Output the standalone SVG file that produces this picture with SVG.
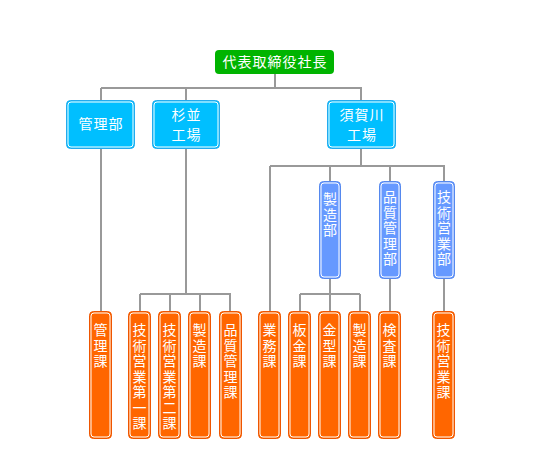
<svg xmlns="http://www.w3.org/2000/svg" width="550" height="470" viewBox="0 0 550 470">
<style>
text{font-family:"Noto Sans CJK JP","Noto Sans",sans-serif;font-size:14px;fill:#fff;text-anchor:middle}
.h{letter-spacing:1px}
.v{writing-mode:vertical-rl;text-anchor:start;letter-spacing:1.5px}
.ln{stroke:#999;stroke-width:2;fill:none}
.in{fill:none;stroke:#fff;stroke-width:1}
.g{fill:#00b400}
.c{fill:#00bfff;stroke:#22aaee;stroke-width:1}
.b{fill:#6699ff;stroke:#5588ee;stroke-width:1}
.o{fill:#ff6600;stroke:#ee5500;stroke-width:1}
</style>
<g id="connectors">
<path class="ln" d="M275 73V88M101 88H362M101 88V101M186 88V101M361 88V101"/>
<path class="ln" d="M101 149V311"/>
<path class="ln" d="M186 149V294M140 294H231M140 294V311M170 294V311M200 294V311M230 294V311"/>
<path class="ln" d="M361 149V166M270 166H445M270 166V311M330 166V181M390 166V181M444 166V181"/>
<path class="ln" d="M330 279V294M300 294H360M300 294V311M330 294V311M360 294V311"/>
<path class="ln" d="M390 279V311M444 279V311"/>
</g>
<g id="ceo"><rect class="g" x="215" y="50" width="119" height="24" rx="4"/><text class="h" x="275" y="67">代表取締役社長</text></g>
<g id="kanribu"><rect class="c" x="66.5" y="100.5" width="68" height="48" rx="4"/><rect class="in" x="68" y="102" width="65" height="45" rx="3"/><text class="h" x="101" y="129">管理部</text></g>
<g id="suginami"><rect class="c" x="152.5" y="100.5" width="67" height="48" rx="4"/><rect class="in" x="154" y="102" width="64" height="45" rx="3"/><text class="h" x="186.5" y="120">杉並</text><text class="h" x="186.5" y="140">工場</text></g>
<g id="sukagawa"><rect class="c" x="327.5" y="100.5" width="68" height="48" rx="4"/><rect class="in" x="329" y="102" width="65" height="45" rx="3"/><text class="h" x="362" y="120">須賀川</text><text class="h" x="362" y="140">工場</text></g>
<g id="seizobu"><rect class="b" x="319.5" y="181.5" width="21" height="97" rx="4"/><rect class="in" x="321" y="183" width="18" height="94" rx="3"/><text class="v" x="330" y="192">製造部</text></g>
<g id="hinshitsubu"><rect class="b" x="379.5" y="181.5" width="21" height="97" rx="4"/><rect class="in" x="381" y="183" width="18" height="94" rx="3"/><text class="v" x="390" y="190">品質管理部</text></g>
<g id="gijutsubu"><rect class="b" x="433.5" y="181.5" width="21" height="97" rx="4"/><rect class="in" x="435" y="183" width="18" height="94" rx="3"/><text class="v" x="444" y="190">技術営業部</text></g>
<g id="kanrika"><rect class="o" x="89.5" y="311.5" width="22" height="127" rx="4"/><rect class="in" x="91" y="313" width="19" height="124" rx="3"/><text class="v" x="100.5" y="323">管理課</text></g>
<g id="gijutsu1"><rect class="o" x="128.5" y="311.5" width="22" height="127" rx="4"/><rect class="in" x="130" y="313" width="19" height="124" rx="3"/><text class="v" x="139.5" y="323">技術営業第一課</text></g>
<g id="gijutsu2"><rect class="o" x="158.5" y="311.5" width="22" height="127" rx="4"/><rect class="in" x="160" y="313" width="19" height="124" rx="3"/><text class="v" x="169.5" y="323">技術営業第二課</text></g>
<g id="seizoka1"><rect class="o" x="188.5" y="311.5" width="22" height="127" rx="4"/><rect class="in" x="190" y="313" width="19" height="124" rx="3"/><text class="v" x="199.5" y="323">製造課</text></g>
<g id="hinshitsuka"><rect class="o" x="219.5" y="311.5" width="22" height="127" rx="4"/><rect class="in" x="221" y="313" width="19" height="124" rx="3"/><text class="v" x="230.5" y="323">品質管理課</text></g>
<g id="gyomuka"><rect class="o" x="258.5" y="311.5" width="22" height="127" rx="4"/><rect class="in" x="260" y="313" width="19" height="124" rx="3"/><text class="v" x="269.5" y="323">業務課</text></g>
<g id="bankinka"><rect class="o" x="288.5" y="311.5" width="22" height="127" rx="4"/><rect class="in" x="290" y="313" width="19" height="124" rx="3"/><text class="v" x="299.5" y="323">板金課</text></g>
<g id="kanagataka"><rect class="o" x="318.5" y="311.5" width="22" height="127" rx="4"/><rect class="in" x="320" y="313" width="19" height="124" rx="3"/><text class="v" x="329.5" y="323">金型課</text></g>
<g id="seizoka2"><rect class="o" x="348.5" y="311.5" width="22" height="127" rx="4"/><rect class="in" x="350" y="313" width="19" height="124" rx="3"/><text class="v" x="359.5" y="323">製造課</text></g>
<g id="kensaka"><rect class="o" x="378.5" y="311.5" width="22" height="127" rx="4"/><rect class="in" x="380" y="313" width="19" height="124" rx="3"/><text class="v" x="389.5" y="323">検査課</text></g>
<g id="gijutsuka"><rect class="o" x="432.5" y="311.5" width="22" height="127" rx="4"/><rect class="in" x="434" y="313" width="19" height="124" rx="3"/><text class="v" x="443.5" y="323">技術営業課</text></g>
</svg>
